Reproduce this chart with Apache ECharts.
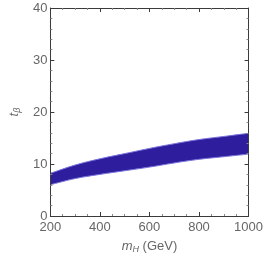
<!DOCTYPE html>
<html>
<head>
<meta charset="utf-8">
<script src="https://cdn.jsdelivr.net/npm/echarts@6/dist/echarts.min.js"></script>
<style>html,body{margin:0;padding:0;background:#fff}#c{width:266px;height:259px}</style>
</head>
<body>
<div id="c"></div>
<script>
var massValues = [200, 300, 400, 500, 600, 700, 800, 900, 1000];
var upperTb = [8.2, 9.8, 11.0, 12.0, 13.0, 13.9, 14.7, 15.3, 15.9];
var lowerTb = [6.0, 7.2, 8.0, 8.7, 9.4, 10.2, 10.9, 11.4, 11.9];
var xTicks = [200, 400, 600, 800, 1000];
var yTicks = [0, 10, 20, 30, 40];

var lowerData = massValues.map(function (m, i) { return [m, lowerTb[i]]; });
var upperData = massValues.map(function (m, i) { return [m, upperTb[i]]; });

var frame = '#3a3a3a';
var labelCol = '#666';
var font = 'Liberation Sans';

function baseX(pos, showLabel) {
  return {
    type: 'value', position: pos, min: xTicks[0], max: xTicks[xTicks.length - 1], interval: xTicks[1] - xTicks[0],
    z: 10,
    axisLine: { show: true, onZero: false, lineStyle: { color: frame, width: 1 } },
    axisTick: { show: true, inside: true, length: 4, lineStyle: { color: frame } },
    minorTick: { show: true, splitNumber: 4, length: 2, lineStyle: { color: '#888' } },
    splitLine: { show: false },
    axisLabel: { show: showLabel, color: labelCol, fontFamily: font, fontSize: 13, margin: 5,
      formatter: function (v) { return String(v); } }
  };
}
function baseY(pos, showLabel) {
  return {
    type: 'value', position: pos, min: yTicks[0], max: yTicks[yTicks.length - 1], interval: yTicks[1] - yTicks[0],
    z: 10,
    axisLine: { show: true, onZero: false, lineStyle: { color: frame, width: 1 } },
    axisTick: { show: true, inside: true, length: 4, lineStyle: { color: frame } },
    minorTick: { show: true, splitNumber: 5, length: 2, lineStyle: { color: '#888' } },
    splitLine: { show: false },
    axisLabel: { show: showLabel, color: labelCol, fontFamily: font, fontSize: 13, margin: 3 }
  };
}

var xb = baseX('bottom', true);
xb.name = '{i|m}{s|H} (GeV)';
xb.nameLocation = 'middle';
xb.nameGap = 23;
xb.nameTextStyle = {
  color: labelCol, fontFamily: font, fontSize: 13,
  rich: {
    i: { fontStyle: 'italic', fontSize: 13, color: labelCol, fontFamily: font },
    s: { fontStyle: 'italic', fontSize: 9, color: labelCol, fontFamily: font, padding: [6, 0, 0, 0] }
  }
};
var xt = baseX('top', false);

var yl = baseY('left', true);
yl.name = '{i|t}{s|β}';
yl.nameLocation = 'middle';
yl.nameGap = 25;
yl.nameRotate = 90;
yl.nameTextStyle = {
  color: labelCol, fontFamily: font, fontSize: 13,
  rich: {
    i: { fontStyle: 'italic', fontSize: 13, color: labelCol, fontFamily: font },
    s: { fontStyle: 'italic', fontSize: 9, color: labelCol, fontFamily: font, padding: [6, 0, 0, 0] }
  }
};
var yr = baseY('right', false);

var chart = echarts.init(document.getElementById('c'), null, { renderer: 'canvas' });
chart.setOption({
  animation: false,
  backgroundColor: '#fff',
  grid: { left: 38, right: 16, top: 8, bottom: 39, containLabel: false },
  xAxis: [xb, xt],
  yAxis: [yl, yr],
  series: [
    {
      type: 'line', data: upperData, smooth: 0.4, symbol: 'none',
      xAxisIndex: 0, yAxisIndex: 0,
      lineStyle: { color: '#7a74dc', width: 1 },
      areaStyle: { color: '#2e1e9e', opacity: 1, origin: 'start' }, z: 2
    },
    {
      type: 'line', data: lowerData, smooth: 0.4, symbol: 'none',
      xAxisIndex: 0, yAxisIndex: 0,
      lineStyle: { color: '#7a74dc', width: 1 },
      areaStyle: { color: '#ffffff', opacity: 1, origin: 'start' }, z: 3
    }
  ]
});
</script>
</body>
</html>
